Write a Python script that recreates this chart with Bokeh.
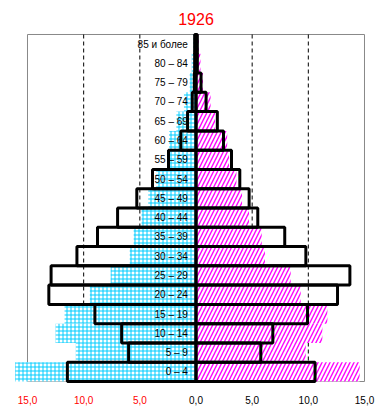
from bokeh.plotting import figure
from bokeh.models import Range1d, ColumnDataSource
from bokeh.core.properties import value
from bokeh.embed import file_html
from bokeh.resources import INLINE

ages = ["0 – 4", "5 – 9", "10 – 14", "15 – 19", "20 – 24", "25 – 29", "30 – 34",
        "35 – 39", "40 – 44", "45 – 49", "50 – 54", "55 – 59", "60 – 64",
        "65 – 69", "70 – 74", "75 – 79", "80 – 84", "85 и более"]
male_1926 = [16.1, 10.7, 12.5, 11.7, 9.45, 7.6, 5.9, 5.55, 4.85, 4.25, 3.55,
             2.35, 2.4, 1.75, 1.07, 0.56, 0.38, 0.25]
female_1926 = [14.57, 9.77, 11.25, 11.7, 9.32, 8.43, 6.14, 5.85, 4.72, 4.1, 3.6,
               2.94, 2.78, 1.7, 1.3, 0.62, 0.4, 0.25]
male_other = [11.45, 6.0, 6.62, 9.0, 13.1, 12.9, 10.6, 8.77, 6.98, 5.27, 3.87,
              2.45, 1.35, 0.75, 0.33, 0.15, 0.12, 0.12]
female_other = [10.6, 5.77, 6.84, 9.93, 12.6, 13.7, 9.78, 7.9, 5.5, 4.73, 3.9,
                3.16, 2.45, 1.9, 0.9, 0.45, 0.12, 0.12]
tick_values = [-15, -10, -5, 0, 5, 10, 15]
tick_texts = ["15,0", "10,0", "5,0", "0,0", "5,0", "10,0", "15,0"]
title_text = "1926"

n = len(ages)
ypos = [i + 0.5 for i in range(n)]

src = ColumnDataSource(dict(
    y=ypos, age=ages,
    m=[-v for v in male_1926], f=female_1926,
    mo=[-v for v in male_other], fo=female_other,
    zero=[0] * n, lx=[-0.72] * n,
))

FONT = "Liberation Sans"
x_lim = max(abs(v) for v in tick_values)
grid_vals = [v for v in tick_values if 0 < abs(v) < x_lim]

p = figure(frame_width=374, frame_height=406,
           x_range=Range1d(-16.424, 16.87), y_range=Range1d(-1.504, 19.556),
           min_border_left=11, min_border_right=4, min_border_top=4,
           min_border_bottom=3, x_axis_location=None, y_axis_location=None,
           toolbar_location=None, output_backend="svg")
p.outline_line_color = None
p.background_fill_color = "white"
p.border_fill_color = "white"
p.xgrid.grid_line_color = None
p.ygrid.grid_line_color = None

# plot-area frame (gray) and dashed grid lines, behind the bars
p.quad(left=[-x_lim], right=[x_lim], bottom=[0], top=[n], fill_color=None,
       line_color="#888888", line_width=1, level="underlay")
p.segment(x0=grid_vals, x1=grid_vals, y0=[0] * len(grid_vals), y1=[n] * len(grid_vals),
          line_color="black", line_dash="4 3", line_width=1, level="underlay")

# hatched bars 1926
p.hbar(y="y", left="m", right="zero", height=1, source=src,
       fill_color="white", line_color=None,
       hatch_pattern="+", hatch_color="#00CCFF", hatch_scale=4, hatch_weight=1)
p.hbar(y="y", left="zero", right="f", height=1, source=src,
       fill_color="white", line_color=None,
       hatch_pattern="/", hatch_color="#FF00FF", hatch_scale=8, hatch_weight=1.4)

# outlined bars
p.hbar(y="y", left="mo", right="zero", height=1, source=src,
       fill_color=None, line_color="black", line_width=3)
p.hbar(y="y", left="zero", right="fo", height=1, source=src,
       fill_color=None, line_color="black", line_width=3)

# age labels
p.text(x="lx", y="y", text="age", source=src, text_align="right",
       text_baseline="middle", text_font=value(FONT), text_font_size="10px",
       text_color="black")

# x tick labels
p.text(x=tick_values, y=[-0.96] * len(tick_values), text=tick_texts,
       text_color=["red" if v < 0 else "black" for v in tick_values],
       text_align="center", text_baseline="middle", text_font=value(FONT),
       text_font_size="10px")

# title
p.text(x=[0], y=[n + 0.814], text=[title_text], text_color="red",
       text_align="center", text_baseline="middle", text_font=value(FONT),
       text_font_size="16px")

open("out.html", "w").write(file_html(p, INLINE))
